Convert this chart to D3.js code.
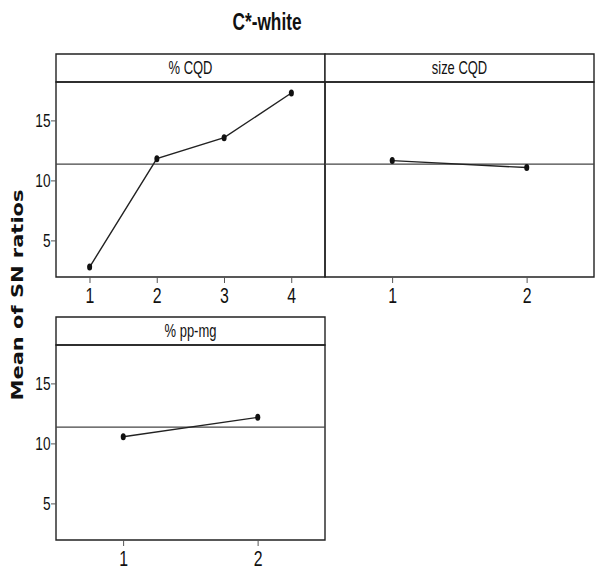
<!DOCTYPE html>
<html>
<head>
<meta charset="utf-8">
<script src="https://cdn.jsdelivr.net/npm/d3@7"></script>
<style>
  body { margin: 0; background: #fff; }
  svg { display: block; }
</style>
</head>
<body>
<div id="chart"></div>
<script>
// ---- data ----
const chartTitle = "C*-white";
const yAxisTitle = "Mean of SN ratios";
const factorNames = ["% CQD", "size CQD", "% pp-mg"];
const cqdLevels = [1, 2, 3, 4];
const cqdMeans = [2.78, 11.81, 13.56, 17.28];
const sizeLevels = [1, 2];
const sizeMeans = [11.65, 11.07];
const ppLevels = [1, 2];
const ppMeans = [10.55, 12.17];
const yTicks = [5, 10, 15];
const yDomain = [1.95, 18.2];

// ---- layout (screen px) ----
const W = 599, H = 576;
const SX = 0.72; // horizontal compression of the original figure
const panelLayout = [
  { left: 56, right: 325, top: 54, yAxis: true },
  { left: 325, right: 594, top: 54, yAxis: false },
  { left: 56, right: 325, top: 317, yAxis: true }
];
const stripH = 28, plotH = 195;
const ink = "#222";

const panels = [
  { name: factorNames[0], levels: cqdLevels, means: cqdMeans },
  { name: factorNames[1], levels: sizeLevels, means: sizeMeans },
  { name: factorNames[2], levels: ppLevels, means: ppMeans }
];
const grandMean = d3.mean(cqdMeans);

const svg = d3.select("#chart").append("svg")
  .attr("width", W).attr("height", H);
const g = svg.append("g").attr("transform", `scale(${SX},1)`);
const sx = v => v / SX;

panels.forEach((p, i) => {
  const L = panelLayout[i];
  const plotTop = L.top + stripH, plotBot = plotTop + plotH;
  const x = d3.scaleLinear().domain([0.5, p.levels.length + 0.5]).range([sx(L.left), sx(L.right)]);
  const y = d3.scaleLinear().domain(yDomain).range([plotBot, plotTop]);
  const pg = g.append("g");

  // strip
  pg.append("rect").attr("x", sx(L.left)).attr("y", L.top)
    .attr("width", sx(L.right) - sx(L.left)).attr("height", stripH)
    .attr("fill", "#fff").attr("stroke", ink).attr("stroke-width", 1.4)
    .attr("vector-effect", "non-scaling-stroke");
  pg.append("text").attr("x", (sx(L.left) + sx(L.right)) / 2).attr("y", L.top + stripH / 2 + 6.5)
    .attr("text-anchor", "middle").attr("font-family", "Liberation Sans, Arial, sans-serif")
    .attr("font-size", 18).attr("fill", "#111").text(p.name);

  // plot area
  pg.append("rect").attr("x", sx(L.left)).attr("y", plotTop)
    .attr("width", sx(L.right) - sx(L.left)).attr("height", plotH)
    .attr("fill", "none").attr("stroke", ink).attr("stroke-width", 1.4)
    .attr("vector-effect", "non-scaling-stroke");

  // grand mean line
  pg.append("line").attr("x1", sx(L.left)).attr("x2", sx(L.right))
    .attr("y1", y(grandMean)).attr("y2", y(grandMean))
    .attr("stroke", "#444").attr("stroke-width", 1.2)
    .attr("vector-effect", "non-scaling-stroke");

  // x axis
  const xa = pg.append("g").attr("transform", `translate(0,${plotBot})`)
    .call(d3.axisBottom(x).tickValues(p.levels).tickSize(6).tickPadding(4).tickFormat(d3.format("d")));
  xa.select(".domain").remove();
  xa.selectAll("line").attr("stroke", "#555").attr("vector-effect", "non-scaling-stroke");
  xa.selectAll("text").attr("font-family", "Liberation Sans, Arial, sans-serif")
    .attr("font-size", 22).attr("fill", "#111");

  // y axis
  if (L.yAxis) {
    const ya = pg.append("g").attr("transform", `translate(${sx(L.left)},0)`)
      .call(d3.axisLeft(y).tickValues(yTicks).tickSize(sx(5)).tickPadding(sx(0.5)));
    ya.select(".domain").remove();
    ya.selectAll("line").attr("stroke", "#555").attr("vector-effect", "non-scaling-stroke");
    ya.selectAll("text").attr("font-family", "Liberation Sans, Arial, sans-serif")
      .attr("font-size", 19).attr("fill", "#111");
  }

  // line + points
  const pts = p.levels.map((lv, k) => [lv, p.means[k]]);
  pg.append("path").datum(pts)
    .attr("d", d3.line().x(d => x(d[0])).y(d => y(d[1])))
    .attr("fill", "none").attr("stroke", ink).attr("stroke-width", 1.4)
    .attr("vector-effect", "non-scaling-stroke");
  pg.selectAll("circle.pt").data(pts).join("circle").attr("class", "pt")
    .attr("cx", d => x(d[0])).attr("cy", d => y(d[1])).attr("r", 3.5)
    .attr("fill", "#111");
});

// title
g.append("text").attr("x", sx(267)).attr("y", 30).attr("text-anchor", "middle")
  .attr("font-family", "Liberation Sans, Arial, sans-serif").attr("font-weight", "bold")
  .attr("font-size", 24).attr("fill", "#111").text(chartTitle);

// y axis title
g.append("text").attr("transform", `translate(${sx(23)},295) rotate(-90)`)
  .attr("text-anchor", "middle")
  .attr("font-family", "DejaVu Sans, Verdana, sans-serif").attr("font-weight", "bold")
  .attr("font-size", 21).attr("fill", "#111").text(yAxisTitle);
</script>
</body>
</html>
